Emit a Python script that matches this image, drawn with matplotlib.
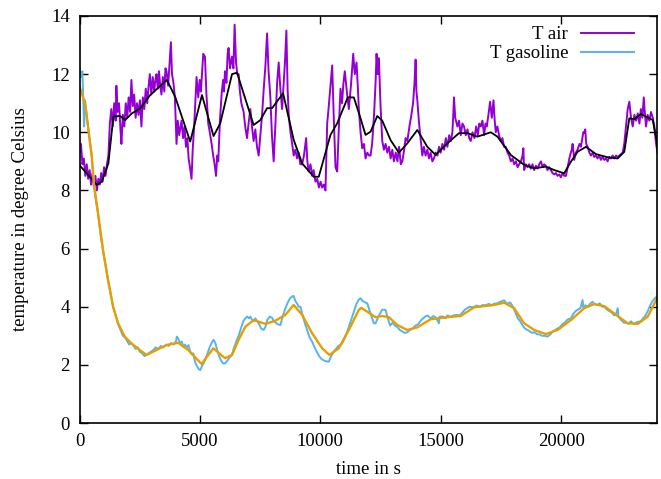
import matplotlib
matplotlib.use("Agg")
import matplotlib.pyplot as plt

# raw air temperature (s, degC)
air_time = [
    0, 60, 120, 180, 240, 300, 360, 420, 480, 540, 600, 660, 720, 780, 840,
    900, 960, 1020, 1080, 1140, 1200, 1260, 1320, 1380, 1440, 1500, 1530,
    1580, 1640, 1700, 1740, 1800, 1860, 1920, 1980, 2040, 2100, 2155, 2210,
    2270, 2330, 2390, 2450, 2510, 2570, 2630, 2690, 2750, 2810, 2870, 2920,
    2980, 3040, 3100, 3150, 3195, 3250, 3300, 3350, 3403, 3460, 3520, 3570,
    3611, 3680, 3740, 3794, 3840, 3900, 3960, 4028, 4080, 4140, 4236, 4300,
    4360, 4420, 4480, 4530, 4586, 4652, 4700, 4760, 4860, 4930, 4990, 5040,
    5100, 5138, 5208, 5270, 5346, 5410, 5485, 5550, 5610, 5668, 5720, 5762,
    5830, 5900, 5960, 6000, 6040, 6100, 6150, 6190, 6250, 6331, 6390, 6440,
    6500, 6550, 6606, 6660, 6720, 6814, 6880, 6955, 7020, 7093, 7160, 7230,
    7300, 7370, 7438, 7500, 7580, 7650, 7720, 7788, 7850, 7925, 7990, 8062,
    8130, 8204, 8270, 8340, 8411, 8470, 8530, 8590, 8640, 8686, 8760, 8830,
    8894, 8960, 9035, 9100, 9170, 9243, 9320, 9410, 9460, 9518, 9590, 9660,
    9720, 9797, 9870, 9940, 10010, 10075, 10140, 10213, 10250, 10284, 10350,
    10421, 10492, 10550, 10629, 10700, 10770, 10837, 10900, 10960, 11016,
    11100, 11182, 11270, 11365, 11430, 11502, 11560, 11598, 11670, 11740,
    11810, 11877, 11950, 12020, 12085, 12150, 12230, 12293, 12334, 12380,
    12430, 12470, 12500, 12571, 12640, 12710, 12779, 12850, 12920, 12990,
    13054, 13130, 13200, 13270, 13340, 13404, 13480, 13540, 13612, 13700,
    13780, 13850, 13910, 13957, 13990, 14027, 14090, 14160, 14235, 14300,
    14370, 14443, 14510, 14580, 14650, 14718, 14790, 14860, 14930, 14997,
    15070, 15140, 15210, 15275, 15350, 15420, 15483, 15520, 15550, 15600,
    15692, 15760, 15830, 15900, 15967, 16040, 16110, 16180, 16245, 16320,
    16400, 16470, 16540, 16600, 16661, 16730, 16800, 16860, 16910, 16980,
    17048, 17120, 17190, 17240, 17285, 17350, 17420, 17493, 17560, 17630,
    17700, 17772, 17840, 17910, 17980, 18046, 18120, 18190, 18260, 18330,
    18396, 18430, 18462, 18530, 18600, 18670, 18740, 18810, 18878, 18950,
    19020, 19090, 19160, 19230, 19294, 19360, 19430, 19500, 19570, 19640,
    19710, 19780, 19850, 19920, 19986, 20060, 20130, 20197, 20270, 20340,
    20400, 20440, 20475, 20542, 20610, 20680, 20760, 20820, 20880, 20920,
    20958, 21000, 21040, 21100, 21170, 21240, 21310, 21374, 21440, 21510,
    21580, 21650, 21720, 21790, 21860, 21930, 22000, 22070, 22140, 22206,
    22280, 22350, 22420, 22490, 22555, 22620, 22690, 22763, 22830, 22900,
    22971, 23040, 23110, 23180, 23250, 23310, 23370, 23430, 23480, 23525,
    23590, 23660, 23730, 23803, 23870, 23941, 24000,
]
air_temp = [
    9.3, 9.6, 8.9, 9.1, 8.5, 8.9, 8.4, 8.7, 8.2, 8.6, 8.1, 8.5, 8.0, 8.4, 8.2,
    8.6, 8.3, 8.8, 8.5, 8.9, 9.2, 10.3, 10.8, 10.2, 11.0, 10.4, 11.6,
    10.7, 11.0, 10.1, 9.6, 10.6, 10.2, 11.0, 10.5, 11.2, 10.7, 11.8, 10.9,
    11.3, 10.5, 11.0, 10.6, 11.1, 10.2, 11.2, 10.8, 11.5, 11.0, 11.6, 12.0,
    11.3, 11.9, 11.4, 11.8, 12.0, 11.5, 12.1, 11.6, 11.3, 11.9, 11.4, 12.2,
    12.1, 11.6, 12.4, 13.1, 12.0, 11.7, 11.2, 9.6, 10.4, 9.9, 10.4, 9.8,
    10.2, 9.5, 9.8, 9.1, 8.8, 8.4, 9.4, 10.2, 11.9, 11.2, 11.8, 11.4,
    12.2, 12.7, 12.6, 11.3, 10.3, 10.0, 9.6, 9.2, 8.9, 8.5, 9.2, 9.0,
    10.4, 11.3, 11.8, 11.4, 12.1, 11.7, 12.7, 12.9, 12.2, 12.6, 12.2, 13.7,
    12.4, 12.0, 12.0, 11.4, 11.0, 10.7, 10.2, 9.8, 10.3, 10.8, 10.2, 9.7,
    10.1, 9.5, 9.2, 9.8, 10.6, 11.5, 12.3, 13.4, 12.1, 11.2, 9.9, 9.0,
    10.2, 11.7, 12.4, 11.5, 10.8, 11.6, 12.4, 13.5, 11.5, 10.6, 10.0, 9.6,
    9.2, 9.4, 9.1, 9.3, 8.9, 8.9, 9.2, 9.8, 9.0, 8.65, 8.9, 8.5,
    8.7, 8.3, 8.4, 8.1, 8.3, 8.1, 8.2, 8.0, 9.2, 10.3, 10.9,
    11.6, 12.3, 10.7, 8.8, 8.65, 10.2, 11.5, 11.0, 11.7, 12.1,
    11.4, 10.8, 11.6, 12.7, 12.0, 12.4, 11.5, 10.8, 10.0, 9.45,
    9.6, 9.1, 9.3, 9.2, 9.2, 9.6, 10.6, 11.7, 12.7, 12.0,
    12.55, 11.6, 10.9, 9.7, 9.4, 9.6, 9.3, 9.5, 9.1, 9.4,
    9.0, 9.3, 9.0, 9.5, 8.9, 9.0, 9.4, 9.8, 9.7, 10.2,
    10.6, 11.0, 11.7, 12.5, 11.4, 11.1, 10.4, 9.8, 9.2, 9.5,
    9.2, 9.4, 9.1, 9.3, 9.0, 9.1, 9.3, 9.2, 9.5, 9.3,
    9.6, 9.4, 9.8, 9.5, 9.9, 9.7, 10.0, 10.6, 11.2, 10.5,
    10.2, 10.4, 9.9, 10.3, 10.2, 9.9, 10.1, 9.8, 9.7, 10.0,
    9.8, 10.2, 9.9, 10.3, 10.2, 10.4, 9.9, 10.3, 10.2, 10.6,
    11.05, 10.5, 11.1, 10.4, 10.0, 10.2, 9.9, 9.7, 9.8, 9.5,
    9.5, 9.3, 9.2, 9.0, 9.1, 8.9, 9.0, 8.8, 8.9, 9.0,
    9.2, 9.45, 8.7, 8.9, 8.8, 8.9, 8.75, 8.9, 8.7, 8.85,
    8.75, 8.9, 9.0, 8.8, 8.9, 8.85, 8.7, 8.8, 8.7, 8.6,
    8.55, 8.6, 8.5, 8.55, 8.45, 8.6, 8.5, 8.5, 8.8, 9.1,
    9.3, 9.4, 9.6, 9.05, 9.3, 9.4, 9.6, 9.5, 9.8, 10.0,
    9.97, 10.1, 9.6, 9.5, 9.3, 9.2, 9.3, 9.15, 9.2, 9.1,
    9.2, 9.05, 9.15, 9.05, 9.1, 9.0, 9.15, 9.1, 9.2, 9.1,
    9.2, 9.15, 9.2, 9.25, 9.3, 9.6, 10.2, 10.8, 11.05, 10.5,
    10.2, 10.6, 10.4, 10.65, 10.3, 10.8, 10.5, 11.2, 10.6, 10.2,
    10.6, 10.4, 10.7, 10.5, 10.2, 9.6, 9.3,
]

# smoothed air temperature
air_smooth_time = [
    0, 716, 924, 1198, 1406, 1685, 1893, 2172, 2517, 2933, 3628, 3973, 4597,
    5084, 5566, 5845, 6332, 6540, 7230, 7509, 7788, 7996, 8453, 8894, 9243,
    9726, 9934, 10421, 10700, 11140, 11390, 11669, 11877, 12085, 12364,
    12571, 12917, 13262, 13612, 14027, 14443, 14789, 15275, 15758, 16107,
    16523, 17077, 17355, 17909, 18462, 18878, 19365, 19710, 20126, 20405,
    20683, 21029, 21445, 21932, 22347, 22622, 22830, 23038, 23317, 23803,
    24050,
]
air_smooth_temp = [
    8.87, 8.19, 8.3, 8.93, 10.54, 10.56, 10.42, 10.65, 10.82, 11.28, 11.8,
    11.22, 9.68, 11.28, 9.87, 10.31, 12.0, 12.05, 10.25, 10.42, 10.83, 10.83,
    11.34, 9.74, 8.93, 8.47, 8.47, 9.91, 10.31, 11.2, 11.2, 10.48, 9.91,
    10.02, 10.56, 10.4, 9.73, 9.3, 9.62, 10.08, 9.5, 9.22, 9.62, 9.97, 9.97,
    9.85, 10.0, 9.85, 9.22, 8.88, 8.76, 8.82, 8.70, 8.59, 8.99, 9.33, 9.5,
    9.25, 9.14, 9.1, 9.33, 10.48, 10.45, 10.63, 10.42, 9.33,
]

# raw gasoline temperature
gas_time = [
    0, 60, 120, 190, 229, 300, 400, 508, 603, 690, 770, 870, 978, 1080, 1186,
    1290, 1394, 1500, 1602, 1700, 1800, 1880, 1960, 2060, 2155, 2250, 2330,
    2420, 2504, 2600, 2700, 2779, 2870, 2960, 3050, 3160, 3266, 3380, 3480,
    3611, 3700, 3800, 3900, 4000, 4043, 4100, 4180, 4250, 4306, 4380, 4450,
    4526, 4600, 4680, 4722, 4800, 4880, 4950, 5013, 5080, 5150, 5230, 5320,
    5400, 5480, 5566, 5640, 5720, 5800, 5880, 5960, 6053, 6140, 6230, 6331,
    6420, 6510, 6606, 6700, 6800, 6885, 6960, 7040, 7093, 7160, 7230, 7301,
    7380, 7460, 7540, 7646, 7717, 7800, 7900, 7996, 8070, 8150, 8220, 8341,
    8450, 8550, 8650, 8750, 8827, 8894, 8960, 9040, 9100, 9173, 9250, 9350,
    9450, 9550, 9659, 9760, 9850, 9950, 10050, 10150, 10250, 10350, 10450,
    10550, 10650, 10750, 10850, 10907, 11000, 11100, 11200, 11300, 11400,
    11500, 11600, 11669, 11750, 11860, 11948, 12050, 12150, 12222, 12293,
    12380, 12470, 12570, 12709, 12800, 12900, 13000, 13100, 13196, 13300,
    13400, 13500, 13612, 13720, 13830, 13950, 14060, 14200, 14340, 14450,
    14580, 14700, 14800, 14927, 14950, 15100, 15200, 15275, 15400, 15530,
    15650, 15790, 15900, 16000, 16100, 16200, 16300, 16382, 16500, 16620,
    16740, 16860, 17000, 17100, 17214, 17350, 17500, 17630, 17750, 17880,
    18000, 18100, 18200, 18300, 18400, 18500, 18600, 18700, 18800, 18900,
    19000, 19100, 19200, 19300, 19434, 19550, 19650, 19750, 19851, 19950,
    20050, 20150, 20250, 20405, 20500, 20600, 20700, 20800, 20891, 20920,
    21000, 21100, 21200, 21300, 21374, 21500, 21600, 21700, 21790, 21900,
    22000, 22100, 22200, 22280, 22347, 22380, 22480, 22600, 22700, 22800,
    22900, 23000, 23100, 23180, 23300, 23400, 23500, 23596, 23700, 23800,
    23900, 24053,
]
gas_temp = [
    12.2, 11.9, 12.1, 10.2, 11.1, 10.6, 9.9, 9.2, 8.1, 7.6, 7.2, 6.5, 5.9,
    5.4, 4.9, 4.45, 4.0, 3.7, 3.4, 3.2, 3.0, 2.95, 2.85, 2.7, 2.75, 2.65,
    2.55, 2.6, 2.45, 2.4, 2.3, 2.35, 2.4, 2.45, 2.5, 2.6, 2.55, 2.65, 2.6,
    2.7, 2.65, 2.75, 2.7, 2.8, 2.97, 2.9, 2.75, 2.8, 2.62, 2.7, 2.6,
    2.68, 2.45, 2.35, 2.4, 2.1, 1.95, 1.85, 1.82, 1.95, 2.05, 2.2, 2.4,
    2.6, 2.75, 2.86, 2.75, 2.5, 2.3, 2.15, 2.05, 2.05, 2.15, 2.25, 2.35,
    2.6, 2.8, 3.0, 3.25, 3.5, 3.6, 3.66, 3.6, 3.66, 3.55, 3.5, 3.6,
    3.5, 3.4, 3.25, 3.2, 3.3, 3.55, 3.66, 3.62, 3.5, 3.45, 3.4, 3.37,
    3.7, 3.95, 4.15, 4.3, 4.35, 4.37, 4.2, 4.1, 4.0, 4.0, 3.75, 3.45,
    3.2, 2.95, 2.8, 2.6, 2.45, 2.3, 2.2, 2.15, 2.12, 2.11, 2.3,
    2.45, 2.55, 2.65, 2.7, 2.74, 2.9, 3.1, 3.35, 3.6, 3.85,
    4.1, 4.25, 4.29, 4.2, 4.15, 4.12, 3.85, 3.6, 3.43, 3.43,
    3.6, 3.75, 3.9, 3.89, 3.6, 3.35, 3.45, 3.35, 3.3, 3.2,
    3.15, 3.1, 3.12, 3.2, 3.25, 3.35, 3.4, 3.55, 3.65, 3.7,
    3.6, 3.68, 3.62, 3.43, 3.66, 3.66, 3.6, 3.7, 3.65, 3.7,
    3.72, 3.7, 3.8, 3.9, 3.95, 4.0, 3.98, 4.0, 4.04, 4.0,
    4.06, 4.05, 4.1, 4.05, 4.1, 4.12, 4.18, 4.22, 4.1, 4.15,
    4.0, 3.8, 3.6, 3.5, 3.35, 3.25, 3.2, 3.15, 3.1, 3.12,
    3.05, 3.05, 3.0, 3.0, 2.97, 3.05, 3.15, 3.2, 3.25, 3.3,
    3.4, 3.45, 3.55, 3.6, 3.75, 3.85, 3.9, 3.95, 4.23, 3.95,
    4.05, 4.0, 4.1, 4.17, 4.1, 4.05, 4.12, 4.0, 4.0, 3.9,
    3.85, 3.8, 3.7, 3.75, 3.95, 3.65, 3.55, 3.45, 3.45, 3.42,
    3.5, 3.4, 3.45, 3.48, 3.5, 3.6, 3.7, 3.85, 4.05, 4.2,
    4.3, 4.4,
]

# smoothed gasoline temperature
gas_smooth_time = [
    0, 229, 508, 603, 770, 978, 1186, 1394, 1602, 1880, 2155, 2504, 2779,
    3266, 3611, 4098, 4514, 5067, 5554, 6040, 6331, 6606, 6885, 7230, 7717,
    8133, 8549, 8894, 9243, 9659, 10075, 10379, 10766, 11182, 11598, 11700,
    11948, 12293, 12571, 12846, 13196, 13612, 14027, 14581, 15275, 15829,
    16382, 17214, 17630, 18046, 18462, 18878, 19365, 19851, 20405, 20958,
    21374, 21790, 22347, 22763, 23180, 23596, 24053,
]
gas_smooth_temp = [
    11.57, 11.0, 9.16, 8.2, 7.21, 5.95, 4.92, 4.0, 3.43, 2.97, 2.74, 2.51,
    2.34, 2.54, 2.68, 2.76, 2.51, 2.03, 2.57, 2.23, 2.34, 2.86, 3.31, 3.54,
    3.41, 3.52, 3.72, 4.06, 3.72, 3.09, 2.57, 2.34, 2.57, 3.2, 3.89, 3.96,
    3.83, 3.64, 3.68, 3.64, 3.37, 3.2, 3.29, 3.57, 3.64, 3.68,
    3.98, 4.06, 4.14, 3.95, 3.43, 3.2, 3.06, 3.2, 3.54, 3.95,
    4.09, 4.02, 3.68, 3.43, 3.41, 3.66, 4.40,
]

plt.rcParams["font.family"] = ["Liberation Serif", "DejaVu Serif"]
plt.rcParams["font.size"] = 13.5

fig = plt.figure(figsize=(6.61, 4.79), dpi=100)
ax = fig.add_axes([0.1203, 0.1169, 0.8744, 0.8497])

ax.plot(air_time, air_temp, color="#9400D3", lw=1.4, label="T air")
ax.plot(air_smooth_time, air_smooth_temp, color="black", lw=1.3)
ax.plot(gas_time, gas_temp, color="#56B4E9", lw=1.4, label="T gasoline")
ax.plot(gas_smooth_time, gas_smooth_temp, color="#E69F00", lw=1.7)

ax.set_xlim(0, 24000)
ax.set_ylim(0, 14)
ax.set_xticks([0, 5000, 10000, 15000, 20000])
ax.set_yticks(range(0, 15, 2))
ax.tick_params(direction="in", top=True, right=True, length=6, width=1,
               labelsize=13.5, pad=7)
for sp in ax.spines.values():
    sp.set_linewidth(1.2)

ax.set_xlabel("time in s", fontsize=13.5, labelpad=8)
ax.set_ylabel("temperature in degree Celsius", fontsize=13.5, labelpad=16)

ax.legend(loc="upper right", bbox_to_anchor=(0.98, 1.005), frameon=False,
          markerfirst=False, handlelength=2.8, handletextpad=0.7,
          labelspacing=0.1, fontsize=13.5, borderaxespad=0.25)

fig.savefig("out.png", dpi=100)
